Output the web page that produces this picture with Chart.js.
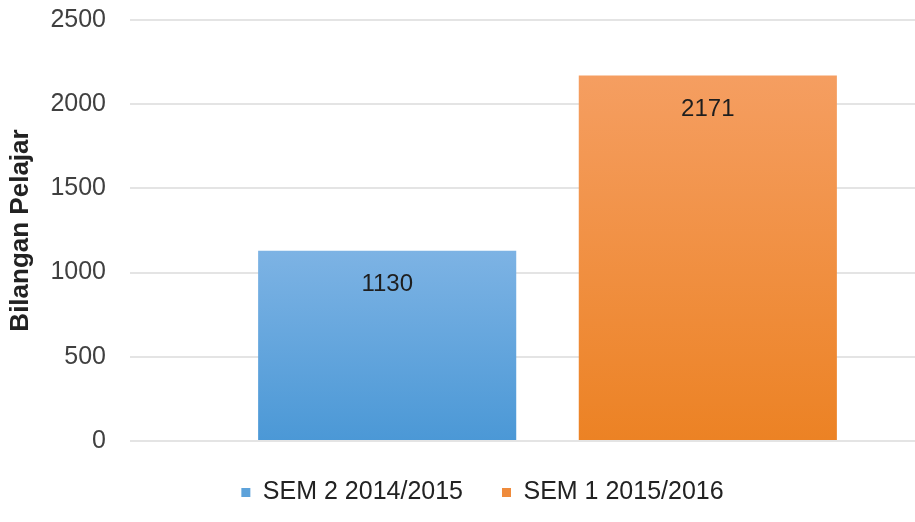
<!DOCTYPE html>
<html>
<head>
<meta charset="utf-8">
<script src="https://cdn.jsdelivr.net/npm/chart.js@4/dist/chart.umd.min.js"></script>
<style>
  html, body { margin: 0; padding: 0; background: #ffffff; }
  #wrap { width: 915px; height: 522px; overflow: hidden; position: relative; }
  #chart { display: block; }
</style>
</head>
<body>
<div id="wrap"><canvas id="chart" width="965" height="522"></canvas></div>
<script>
// Student counts per semester
const categories = ['Bilangan Pelajar'];
const seriesNames = ['SEM 2 2014/2015', 'SEM 1 2015/2016'];
const sem2_2014_2015 = [1130];
const sem1_2015_2016 = [2171];
const yTicks = [0, 500, 1000, 1500, 2000, 2500];

const FONT = "'Liberation Sans', Arial, Helvetica, sans-serif";

// Vertical gradient spanning each bar from its top to the zero line
function barGradient(top, bottom) {
  return function (ctx) {
    const chart = ctx.chart;
    const y = chart.scales && chart.scales.y;
    if (!chart.chartArea || !y || ctx.type !== 'data') return top;
    const v = ctx.raw;
    const y0 = y.getPixelForValue(v);
    const y1 = y.getPixelForValue(0);
    const g = chart.ctx.createLinearGradient(0, y0, 0, y1);
    g.addColorStop(0, top);
    g.addColorStop(1, bottom);
    return g;
  };
}

// Value labels drawn inside each bar, below its top edge
const valueLabels = {
  id: 'valueLabels',
  afterDatasetsDraw(chart) {
    const ctx = chart.ctx;
    ctx.save();
    ctx.font = '24px ' + FONT;
    ctx.fillStyle = '#1e1e1e';
    ctx.textAlign = 'center';
    ctx.textBaseline = 'middle';
    chart.data.datasets.forEach((ds, di) => {
      const meta = chart.getDatasetMeta(di);
      meta.data.forEach((bar, i) => {
        ctx.fillText(String(ds.data[i]), bar.x, bar.y + 34);
      });
    });
    ctx.restore();
  }
};

new Chart(document.getElementById('chart'), {
  type: 'bar',
  data: {
    labels: categories,
    datasets: [
      {
        label: seriesNames[0],
        data: sem2_2014_2015,
        backgroundColor: barGradient('#7db3e4', '#4b98d6'),
        borderWidth: 0,
        categoryPercentage: 0.768,
        barPercentage: 0.805
      },
      {
        label: seriesNames[1],
        data: sem1_2015_2016,
        backgroundColor: barGradient('#f59e61', '#ec8224'),
        borderWidth: 0,
        categoryPercentage: 0.768,
        barPercentage: 0.805
      }
    ]
  },
  options: {
    responsive: false,
    animation: false,
    devicePixelRatio: 1,
    layout: { padding: { left: 0, right: 0, top: 20, bottom: 7 } },
    plugins: {
      legend: {
        position: 'bottom',
        labels: {
          font: { family: FONT, size: 25 },
          color: '#222222',
          boxWidth: 9,
          boxHeight: 9,
          padding: 39,
          generateLabels(chart) {
            const fills = ['#5da2da', '#ef8b3c'];
            return chart.data.datasets.map((ds, i) => ({
              text: ds.label,
              fillStyle: fills[i],
              strokeStyle: fills[i],
              lineWidth: 0,
              fontColor: '#222222',
              hidden: false,
              datasetIndex: i
            }));
          }
        }
      },
      tooltip: { enabled: false }
    },
    scales: {
      x: {
        display: false
      },
      y: {
        min: 0,
        max: 2500,
        afterBuildTicks(scale) {
          scale.ticks = yTicks.map(v => ({ value: v }));
        },
        afterFit(scale) {
          scale.width = 130;
          scale.paddingTop = 0;
          scale.paddingBottom = 0;
        },
        ticks: {
          font: { family: FONT, size: 25 },
          color: '#404040',
          padding: 24,
          callback: (v) => String(v)
        },
        grid: {
          color: '#e4e4e4',
          lineWidth: 2,
          drawTicks: false
        },
        border: { display: false },
        title: {
          display: true,
          text: 'Bilangan Pelajar',
          font: { family: FONT, size: 26, weight: 'bold' },
          color: '#222222',
          padding: { top: 5, bottom: 0 }
        }
      }
    }
  },
  plugins: [valueLabels]
});
</script>
</body>
</html>
